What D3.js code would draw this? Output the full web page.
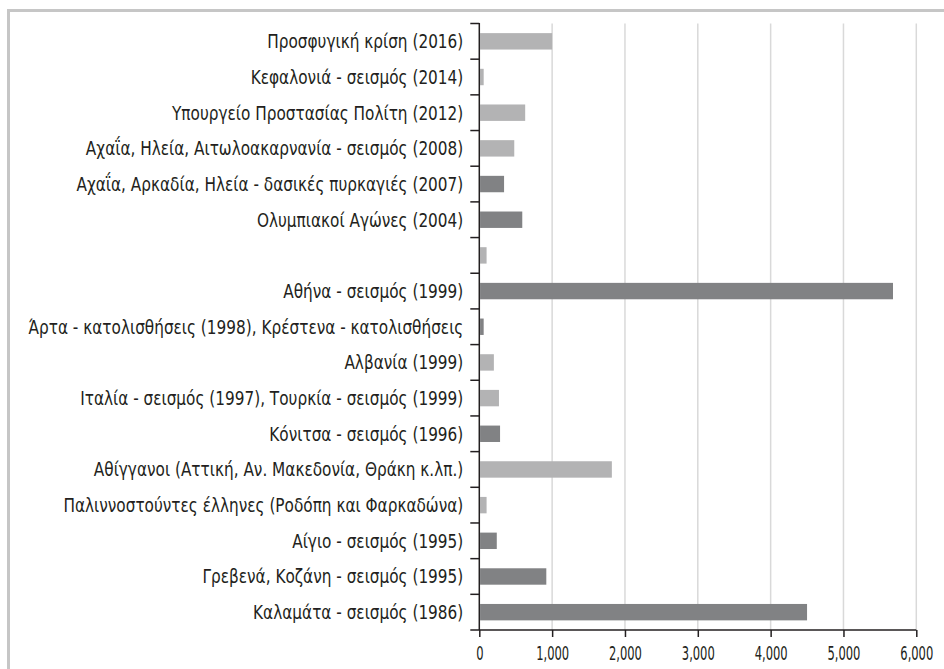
<!DOCTYPE html>
<html>
<head>
<meta charset="utf-8">
<script src="https://cdn.jsdelivr.net/npm/d3@7"></script>
<style>
	body { margin: 0; background: #fff; }
	svg { display: block; }
	.label { font-family: "Liberation Sans Narrow", "DejaVu Sans Condensed", "DejaVu Sans", sans-serif; fill: #231f20; }
</style>
</head>
<body>
<div id="grafika"></div>
<script>
// Κατηγορίες (από πάνω προς τα κάτω) και τιμές
const categories = [
	"Προσφυγική κρίση (2016)",
	"Κεφαλονιά - σεισμός (2014)",
	"Υπουργείο Προστασίας Πολίτη (2012)",
	"Αχαΐα, Ηλεία, Αιτωλοακαρνανία - σεισμός (2008)",
	"Αχαΐα, Αρκαδία, Ηλεία - δασικές πυρκαγιές (2007)",
	"Ολυμπιακοί Αγώνες (2004)",
	"",
	"Αθήνα - σεισμός (1999)",
	"Άρτα - κατολισθήσεις (1998), Κρέστενα - κατολισθήσεις",
	"Αλβανία (1999)",
	"Ιταλία - σεισμός (1997), Τουρκία - σεισμός (1999)",
	"Κόνιτσα - σεισμός (1996)",
	"Αθίγγανοι (Αττική, Αν. Μακεδονία, Θράκη κ.λπ.)",
	"Παλιννοστούντες έλληνες (Ροδόπη και Φαρκαδώνα)",
	"Αίγιο - σεισμός (1995)",
	"Γρεβενά, Κοζάνη - σεισμός (1995)",
	"Καλαμάτα - σεισμός (1986)"
];
const values = [1000, 60, 630, 480, 340, 590, 100, 5680, 60, 200, 270, 285, 1820, 100, 240, 920, 4500];
// "a" = ανοιχτό γκρι, "b" = σκούρο γκρι
const groups = ["a", "a", "a", "a", "b", "b", "a", "b", "b", "a", "a", "b", "a", "a", "b", "b", "b"];
const x_ticks = [0, 1000, 2000, 3000, 4000, 5000, 6000];

const W = 944, H = 669;
const margins = { top: 23.5, right: 27.7, bottom: 39, left: 479.3 };

const x_scale = d3.scaleLinear()
	.domain([0, 6000])
	.range([margins.left, W - margins.right]);
const y_scale = d3.scaleBand()
	.domain(d3.range(categories.length))
	.range([margins.top, H - margins.bottom])
	.paddingInner(0.54)
	.paddingOuter(0.27);
const color = d3.scaleOrdinal()
	.domain(["a", "b"])
	.range(["#b3b3b4", "#818284"]);

// στενεύει τα γράμματα (η γραμματοσειρά του πρωτοτύπου είναι condensed)
const condense = k => function() {
	const w = this.getComputedTextLength();
	if (w > 0) d3.select(this)
		.attr("textLength", w * k)
		.attr("lengthAdjust", "spacingAndGlyphs");
};

const svg = d3.select("#grafika")
	.append("svg")
	.attr("width", W)
	.attr("height", H);

// πλαίσιο (πάνω και αριστερά)
svg.append("path")
	.attr("d", `M8.5,${H} V10.5 H${W}`)
	.attr("fill", "none")
	.attr("stroke", "#c6c6c6")
	.attr("stroke-width", 3);

// κάθετες γραμμές πλέγματος
svg.append("g")
	.attr("class", "grid")
	.selectAll("line")
	.data(x_ticks.slice(1))
	.enter()
	.append("line")
	.attr("x1", d => x_scale(d))
	.attr("x2", d => x_scale(d))
	.attr("y1", margins.top)
	.attr("y2", H - margins.bottom)
	.attr("stroke", "#d9d9d9")
	.attr("stroke-width", 1.5);

// μπάρες
svg.append("g")
	.attr("class", "bars")
	.selectAll("rect")
	.data(values)
	.enter()
	.append("rect")
	.attr("x", x_scale(0) + 0.8)
	.attr("y", (d, i) => y_scale(i))
	.attr("width", d => Math.max(0, x_scale(d) - x_scale(0) - 0.8))
	.attr("height", y_scale.bandwidth())
	.attr("fill", (d, i) => color(groups[i]));

// άξονας x
const x_axis = d3.axisBottom(x_scale)
	.tickValues(x_ticks)
	.tickSize(7)
	.tickPadding(9)
	.tickFormat(d3.format(","));
const gx = svg.append("g")
	.attr("class", "x axis")
	.attr("transform", `translate(0, ${H - margins.bottom})`)
	.call(x_axis);
gx.select(".domain").remove();
gx.selectAll("line").attr("stroke", "#231f20").attr("stroke-width", 1.5);
// οι ετικέτες είναι στο x=0 κάθε tick, οπότε το scale τις στενεύει γύρω από το κέντρο
gx.selectAll("text")
	.attr("class", "label")
	.attr("font-size", 20)
	.attr("dy", "0.71em")
	.attr("transform", "scale(0.64, 1)");

// άξονας y: γραμμές στα όρια των κατηγοριών
const step = y_scale.step();
const bounds = d3.range(categories.length + 1)
	.map(i => margins.top + i * step);
const gy = svg.append("g").attr("class", "y axis");
gy.append("line")
	.attr("x1", x_scale(0))
	.attr("x2", x_scale(0))
	.attr("y1", margins.top - 0.5)
	.attr("y2", H - margins.bottom)
	.attr("stroke", "#231f20")
	.attr("stroke-width", 1.5);
gy.selectAll(".bound")
	.data(bounds)
	.enter()
	.append("line")
	.attr("class", "bound")
	.attr("x1", x_scale(0) - 9)
	.attr("x2", (d, i) => i === categories.length ? x_scale(6000) : x_scale(0))
	.attr("y1", d => d)
	.attr("y2", d => d)
	.attr("stroke", "#231f20")
	.attr("stroke-width", 1.5);

// ετικέτες κατηγοριών
gy.selectAll("text")
	.data(categories)
	.enter()
	.append("text")
	.attr("class", "label")
	.attr("x", x_scale(0) - 16)
	.attr("y", (d, i) => y_scale(i) + y_scale.bandwidth() / 2)
	.attr("dy", "0.36em")
	.attr("text-anchor", "end")
	.attr("font-size", 19)
	.text(d => d)
	.each(condense(0.895));
</script>
</body>
</html>
